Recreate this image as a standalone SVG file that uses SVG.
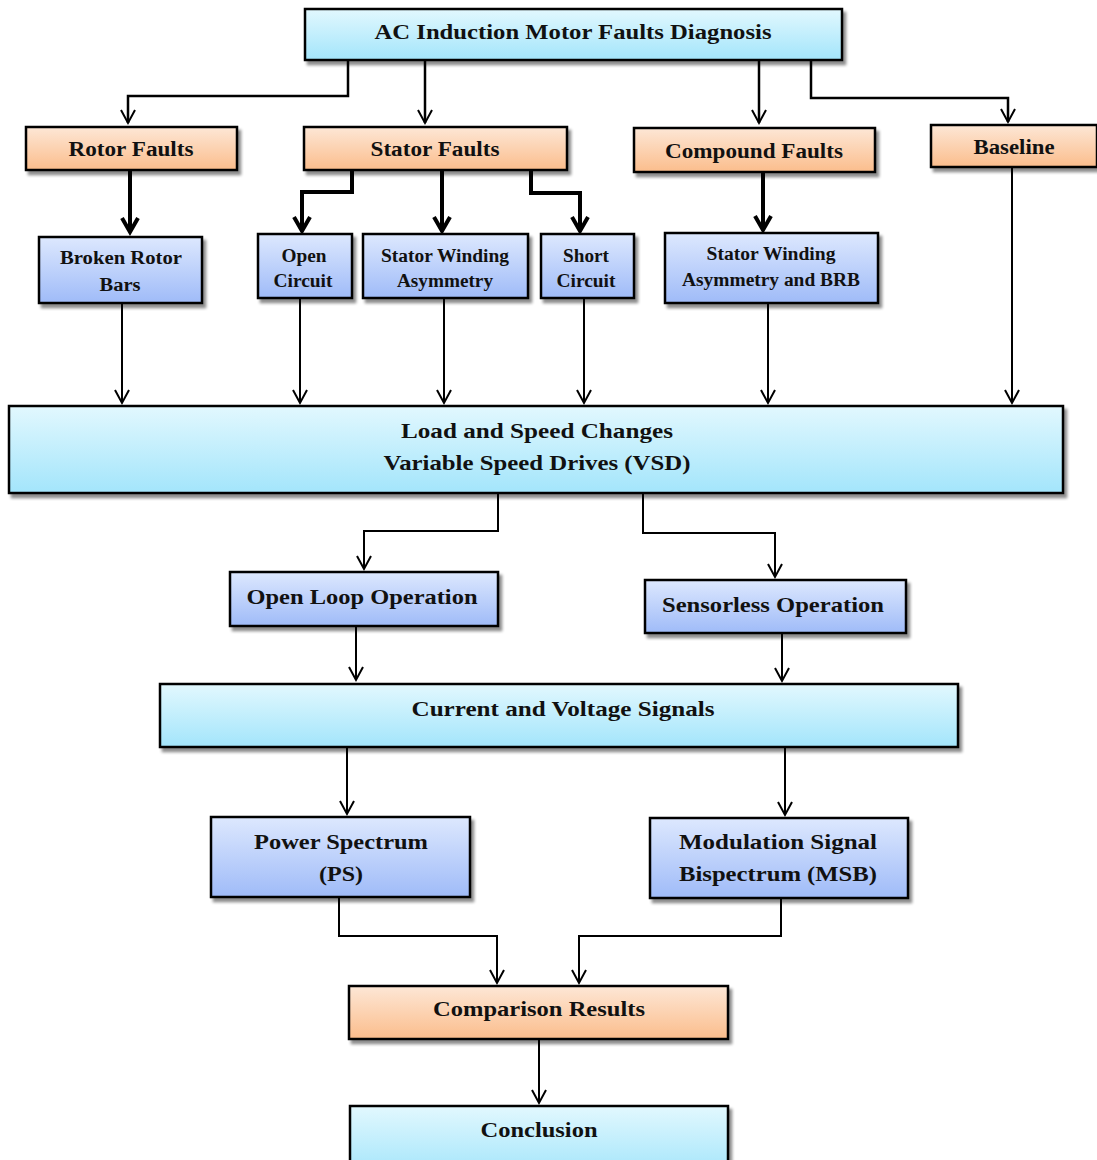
<svg xmlns="http://www.w3.org/2000/svg" width="1097" height="1160" viewBox="0 0 1097 1160">
<defs>
<linearGradient id="gc" x1="0" y1="0" x2="0" y2="1"><stop offset="0" stop-color="#e2f8fe"/><stop offset="1" stop-color="#a3e5fb"/></linearGradient>
<linearGradient id="go" x1="0" y1="0" x2="0" y2="1"><stop offset="0" stop-color="#fde7d6"/><stop offset="1" stop-color="#fbbd8c"/></linearGradient>
<linearGradient id="gb" x1="0" y1="0" x2="0" y2="1"><stop offset="0" stop-color="#dde8fe"/><stop offset="1" stop-color="#9fbbf8"/></linearGradient>
<filter id="sh" x="-5%" y="-10%" width="115%" height="140%"><feGaussianBlur in="SourceAlpha" stdDeviation="1.5"/><feOffset dx="3" dy="4" result="b"/><feComponentTransfer><feFuncA type="linear" slope="0.45"/></feComponentTransfer><feMerge><feMergeNode/><feMergeNode in="SourceGraphic"/></feMerge></filter>
<marker id="at" markerUnits="userSpaceOnUse" markerWidth="20" markerHeight="20" refX="0" refY="0" orient="auto" overflow="visible"><path d="M-13,-7 L0,0 L-13,7" fill="none" stroke="#000" stroke-width="2"/></marker>
<marker id="ak" markerUnits="userSpaceOnUse" markerWidth="20" markerHeight="20" refX="0" refY="0" orient="auto" overflow="visible"><path d="M-14,-8 L0,0 L-14,8" fill="none" stroke="#000" stroke-width="4"/></marker>
</defs>
<style>
.c{fill:url(#gc)}.o{fill:url(#go)}.b{fill:url(#gb)}
rect{stroke:#000;stroke-width:2.5;filter:url(#sh)}
text{font-family:"Liberation Serif","Times New Roman",serif;font-weight:bold;fill:#111;text-anchor:middle;dominant-baseline:central}
.thin{fill:none;stroke:#000;stroke-width:2;marker-end:url(#at)}
.thick{fill:none;stroke:#000;stroke-width:4;marker-end:url(#ak)}
.topl{fill:none;stroke:#000;stroke-width:2.5;marker-end:url(#at)}
</style>
<g id="connectors">
<path class="topl" d="M348,60 V96 H128 V123"/>
<path class="topl" d="M425,60 V123"/>
<path class="topl" d="M759,60 V123"/>
<path class="topl" d="M811,60 V98 H1008 V122"/>
<path class="thick" d="M130,170 V232"/>
<path class="thick" d="M352,170 V192 H302 V231"/>
<path class="thick" d="M442,170 V231"/>
<path class="thick" d="M531,170 V193 H580 V231"/>
<path class="thick" d="M763,172 V230"/>
<path class="thin" d="M122,303 V403"/>
<path class="thin" d="M300,298 V403"/>
<path class="thin" d="M444,298 V403"/>
<path class="thin" d="M584,298 V403"/>
<path class="thin" d="M768,303 V403"/>
<path class="thin" d="M1012,167 V403"/>
<path class="thin" d="M498,493 V531 H364 V569"/>
<path class="thin" d="M643,493 V533 H775 V577"/>
<path class="thin" d="M356,626 V680"/>
<path class="thin" d="M782,633 V681"/>
<path class="thin" d="M347,747 V814"/>
<path class="thin" d="M785,747 V815"/>
<path class="thin" d="M339,897 V936 H497 V983"/>
<path class="thin" d="M781,898 V936 H579 V983"/>
<path class="thin" d="M539,1039 V1103"/>
</g>
<g id="n-top"><rect class="c" x="305" y="9" width="537" height="51"/><text x="573" y="32" font-size="21" textLength="397" lengthAdjust="spacingAndGlyphs">AC Induction Motor Faults Diagnosis</text></g>
<g id="n-rotor"><rect class="o" x="26" y="127" width="211" height="43"/><text x="131" y="149" font-size="20" textLength="125" lengthAdjust="spacingAndGlyphs">Rotor Faults</text></g>
<g id="n-stator"><rect class="o" x="304" y="127" width="263" height="43"/><text x="435" y="149" font-size="20" textLength="129" lengthAdjust="spacingAndGlyphs">Stator Faults</text></g>
<g id="n-compound"><rect class="o" x="634" y="128" width="241" height="44"/><text x="754" y="151" font-size="20" textLength="178" lengthAdjust="spacingAndGlyphs">Compound Faults</text></g>
<g id="n-baseline"><rect class="o" x="931" y="125" width="166" height="42"/><text x="1014" y="147" font-size="20" textLength="81" lengthAdjust="spacingAndGlyphs">Baseline</text></g>
<g id="n-brb"><rect class="b" x="39" y="237" width="163" height="66"/><text x="121" y="258" font-size="18" textLength="122" lengthAdjust="spacingAndGlyphs">Broken Rotor</text><text x="120" y="285" font-size="18" textLength="41" lengthAdjust="spacingAndGlyphs">Bars</text></g>
<g id="n-open"><rect class="b" x="258" y="234" width="94" height="64"/><text x="304" y="256" font-size="18" textLength="45" lengthAdjust="spacingAndGlyphs">Open</text><text x="303" y="281" font-size="18" textLength="59" lengthAdjust="spacingAndGlyphs">Circuit</text></g>
<g id="n-swa"><rect class="b" x="363" y="234" width="165" height="64"/><text x="445" y="256" font-size="18" textLength="128" lengthAdjust="spacingAndGlyphs">Stator Winding</text><text x="445" y="281" font-size="18" textLength="96" lengthAdjust="spacingAndGlyphs">Asymmetry</text></g>
<g id="n-short"><rect class="b" x="541" y="234" width="93" height="64"/><text x="586" y="256" font-size="18" textLength="46" lengthAdjust="spacingAndGlyphs">Short</text><text x="586" y="281" font-size="18" textLength="59" lengthAdjust="spacingAndGlyphs">Circuit</text></g>
<g id="n-swabrb"><rect class="b" x="665" y="233" width="213" height="70"/><text x="771" y="254" font-size="18" textLength="129" lengthAdjust="spacingAndGlyphs">Stator Winding</text><text x="771" y="280" font-size="18" textLength="178" lengthAdjust="spacingAndGlyphs">Asymmetry and BRB</text></g>
<g id="n-vsd"><rect class="c" x="9" y="406" width="1054" height="87"/><text x="537" y="430" font-size="22" textLength="272" lengthAdjust="spacingAndGlyphs">Load and Speed Changes</text><text x="537" y="462" font-size="22" textLength="307" lengthAdjust="spacingAndGlyphs">Variable Speed Drives (VSD)</text></g>
<g id="n-openloop"><rect class="b" x="230" y="572" width="268" height="54"/><text x="362" y="596" font-size="22" textLength="231" lengthAdjust="spacingAndGlyphs">Open Loop Operation</text></g>
<g id="n-sensorless"><rect class="b" x="645" y="580" width="261" height="53"/><text x="773" y="604" font-size="22" textLength="222" lengthAdjust="spacingAndGlyphs">Sensorless Operation</text></g>
<g id="n-signals"><rect class="c" x="160" y="684" width="798" height="63"/><text x="563" y="708" font-size="22" textLength="303" lengthAdjust="spacingAndGlyphs">Current and Voltage Signals</text></g>
<g id="n-ps"><rect class="b" x="211" y="817" width="259" height="80"/><text x="341" y="841" font-size="22" textLength="174" lengthAdjust="spacingAndGlyphs">Power Spectrum</text><text x="341" y="873" font-size="22" textLength="44" lengthAdjust="spacingAndGlyphs">(PS)</text></g>
<g id="n-msb"><rect class="b" x="650" y="818" width="258" height="80"/><text x="778" y="841" font-size="22" textLength="198" lengthAdjust="spacingAndGlyphs">Modulation Signal</text><text x="778" y="873" font-size="22" textLength="198" lengthAdjust="spacingAndGlyphs">Bispectrum (MSB)</text></g>
<g id="n-comparison"><rect class="o" x="349" y="986" width="379" height="53"/><text x="539" y="1009" font-size="21" textLength="212" lengthAdjust="spacingAndGlyphs">Comparison Results</text></g>
<g id="n-conclusion"><rect class="c" x="350" y="1106" width="378" height="70"/><text x="539" y="1130" font-size="21" textLength="117" lengthAdjust="spacingAndGlyphs">Conclusion</text></g>
</svg>
